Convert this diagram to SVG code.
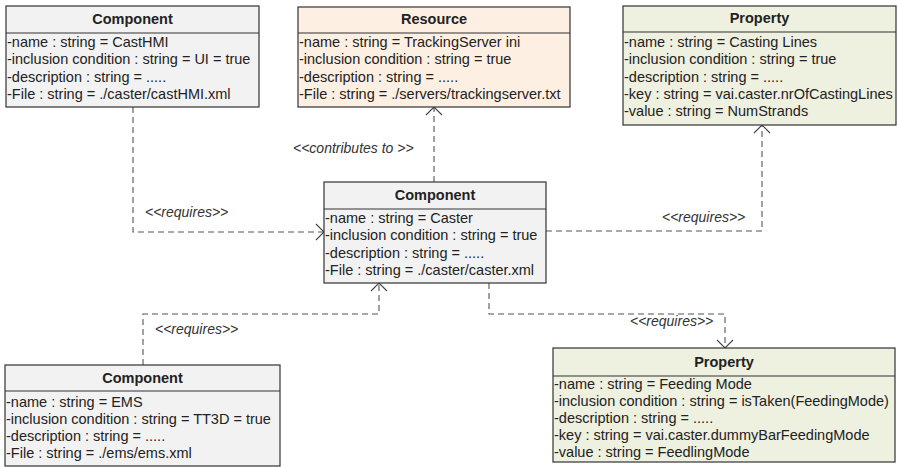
<svg xmlns="http://www.w3.org/2000/svg" width="898" height="467" viewBox="0 0 898 467">
<defs>
<style>
.box{stroke:#333;stroke-width:1.2}
.comp{fill:#f2f2f2}
.res{fill:#fdefe2}
.prop{fill:#eef0e0}
.sep{stroke:#333;stroke-width:1.2}
.hdr{font-family:"Liberation Sans",Arial,sans-serif;font-size:14.5px;font-weight:bold;fill:#222;text-anchor:middle}
.attr{font-family:"Liberation Sans",Arial,sans-serif;font-size:14.5px;fill:#222}
.lbl{font-family:"Liberation Sans",Arial,sans-serif;font-size:14px;font-style:italic;fill:#333}
.dep{fill:none;stroke:#555;stroke-width:1.1;stroke-dasharray:6,4;marker-end:url(#open)}
</style>
<marker id="open" markerUnits="userSpaceOnUse" markerWidth="18" markerHeight="18" viewBox="0 0 18 18" refX="9" refY="9" orient="auto">
<path d="M1,1 L9,9 L1,17" fill="none" stroke="#444" stroke-width="1.1"/>
</marker>
</defs>
<rect width="898" height="467" fill="#fff"/>
<g id="connectors">
<path class="dep" d="M133,107 V232 H324"/>
<path class="dep" d="M434,182 V107"/>
<path class="dep" d="M546,231 H762 V125"/>
<path class="dep" d="M143,365 V314 H379 V283"/>
<path class="dep" d="M489,283 V314 H725 V348"/>
<text class="lbl" x="145" y="217">&lt;&lt;requires&gt;&gt;</text>
<text class="lbl" x="293" y="153">&lt;&lt;contributes to &gt;&gt;</text>
<text class="lbl" x="662" y="222">&lt;&lt;requires&gt;&gt;</text>
<text class="lbl" x="155" y="334">&lt;&lt;requires&gt;&gt;</text>
<text class="lbl" x="630" y="326">&lt;&lt;requires&gt;&gt;</text>
</g>
<g id="castHMI">
<rect class="box comp" x="6" y="6" width="253" height="101"/>
<line class="sep" x1="6" y1="33" x2="259" y2="33"/>
<text class="hdr" x="132.5" y="24">Component</text>
<text class="attr" x="7" y="47">-name : string = CastHMI</text>
<text class="attr" x="7" y="64">-inclusion condition : string = UI = true</text>
<text class="attr" x="7" y="82">-description : string = .....</text>
<text class="attr" x="7" y="99">-File : string = ./caster/castHMI.xml</text>
</g>
<g id="resource">
<rect class="box res" x="298" y="7" width="272" height="100"/>
<line class="sep" x1="298" y1="33" x2="570" y2="33"/>
<text class="hdr" x="434" y="24">Resource</text>
<text class="attr" x="299" y="47">-name : string = TrackingServer ini</text>
<text class="attr" x="299" y="64">-inclusion condition : string = true</text>
<text class="attr" x="299" y="82">-description : string = .....</text>
<text class="attr" x="299" y="99">-File : string = ./servers/trackingserver.txt</text>
</g>
<g id="propertyCasting">
<rect class="box prop" x="623" y="6" width="273" height="119"/>
<line class="sep" x1="623" y1="32" x2="896" y2="32"/>
<text class="hdr" x="759.5" y="23">Property</text>
<text class="attr" x="624" y="47">-name : string = Casting Lines</text>
<text class="attr" x="624" y="64">-inclusion condition : string = true</text>
<text class="attr" x="624" y="82">-description : string = .....</text>
<text class="attr" x="624" y="99">-key : string = vai.caster.nrOfCastingLines</text>
<text class="attr" x="624" y="116">-value : string = NumStrands</text>
</g>
<g id="caster">
<rect class="box comp" x="324" y="182" width="222" height="101"/>
<line class="sep" x1="324" y1="209" x2="546" y2="209"/>
<text class="hdr" x="435" y="200">Component</text>
<text class="attr" x="325" y="223">-name : string = Caster</text>
<text class="attr" x="325" y="240">-inclusion condition : string = true</text>
<text class="attr" x="325" y="258">-description : string = .....</text>
<text class="attr" x="325" y="275">-File : string = ./caster/caster.xml</text>
</g>
<g id="ems">
<rect class="box comp" x="5" y="365" width="275" height="101"/>
<line class="sep" x1="5" y1="391" x2="280" y2="391"/>
<text class="hdr" x="142.5" y="383">Component</text>
<text class="attr" x="6" y="407">-name : string = EMS</text>
<text class="attr" x="6" y="424">-inclusion condition : string = TT3D = true</text>
<text class="attr" x="6" y="441">-description : string = .....</text>
<text class="attr" x="6" y="458">-File : string = ./ems/ems.xml</text>
</g>
<g id="propertyFeeding">
<rect class="box prop" x="553" y="348" width="342" height="114"/>
<line class="sep" x1="553" y1="376" x2="895" y2="376"/>
<text class="hdr" x="724" y="367">Property</text>
<text class="attr" x="554" y="389">-name : string = Feeding Mode</text>
<text class="attr" x="554" y="406">-inclusion condition : string = isTaken(FeedingMode)</text>
<text class="attr" x="554" y="423">-description : string = .....</text>
<text class="attr" x="554" y="440">-key : string = vai.caster.dummyBarFeedingMode</text>
<text class="attr" x="554" y="457">-value : string = FeedlingMode</text>
</g>
</svg>
